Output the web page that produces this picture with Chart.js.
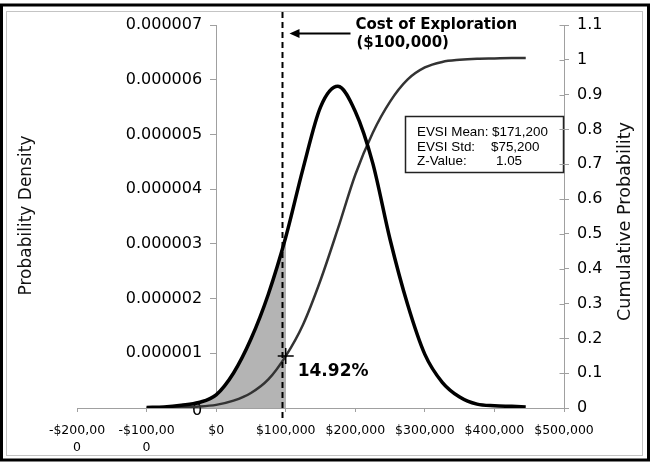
<!DOCTYPE html>
<html><head><meta charset="utf-8">
<script src="https://cdn.jsdelivr.net/npm/chart.js@4/dist/chart.umd.min.js"></script>
<style>html,body{margin:0;padding:0;background:#fff;overflow:hidden}</style>
</head><body>
<canvas id="c" width="651" height="469"></canvas>
<script>
// ---- data ----
const xValues = [-100000,-75000,-50000,-25000,0,25000,50000,75000,100000,125000,150000,175000,200000,225000,250000,275000,300000,325000,350000,375000,400000,425000,445000];
const pdfValues = [0.01e-6,0.02e-6,0.05e-6,0.10e-6,0.24e-6,0.64e-6,1.26e-6,2.08e-6,3.12e-6,4.38e-6,5.50e-6,5.88e-6,5.42e-6,4.48e-6,3.08e-6,1.90e-6,0.98e-6,0.47e-6,0.20e-6,0.07e-6,0.04e-6,0.03e-6,0.02e-6];
const cdfValues = [0.000,0.001,0.002,0.004,0.009,0.021,0.043,0.082,0.149,0.240,0.367,0.515,0.670,0.790,0.880,0.943,0.978,0.994,1.000,1.003,1.004,1.005,1.005];

const xTickValues = [-200000,-100000,0,100000,200000,300000,400000,500000];
const xTickLabels = [['-$200,00','0'],['-$100,00','0'],'$0','$100,000','$200,000','$300,000','$400,000','$500,000'];
const yLeftTickValues = [0,1e-6,2e-6,3e-6,4e-6,5e-6,6e-6,7e-6];
const yLeftTickLabels = ['0','0.000001','0.000002','0.000003','0.000004','0.000005','0.000006','0.000007'];
const yRightTickValues = [0,0.1,0.2,0.3,0.4,0.5,0.6,0.7,0.8,0.9,1,1.1];
const yRightTickLabels = ['0','0.1','0.2','0.3','0.4','0.5','0.6','0.7','0.8','0.9','1','1.1'];

const costValue = 100000;          // shaded up to the cost
const costLineDrawnAt = 94000;     // dashed marker as drawn in the picture
const cdfAtCost = 0.1492;
const pctLabel = '14.92%';
const costLabel = ['Cost of Exploration', '($100,000)'];
const statLabels = ['EVSI Mean:', 'EVSI Std:', 'Z-Value:'];
const statValues = ['$171,200', '$75,200', '1.05'];
const leftTitle = 'Probability Density';
const rightTitle = 'Cumulative Probability';

const AXIS = '#a0a0a0';
const SHADE = '#b4b4b4';

function shadeColor(ctx) {
  const chart = ctx.chart;
  const ca = chart.chartArea;
  if (!ca || !chart.scales.x) return SHADE;
  const px = chart.scales.x.getPixelForValue(costValue);
  const g = chart.ctx.createLinearGradient(ca.left, 0, ca.right, 0);
  const s = Math.min(1, Math.max(0, (px - ca.left) / (ca.right - ca.left)));
  g.addColorStop(0, SHADE);
  g.addColorStop(s, SHADE);
  g.addColorStop(s, 'rgba(255,255,255,0)');
  g.addColorStop(1, 'rgba(255,255,255,0)');
  return g;
}

const decor = {
  id: 'decor',
  beforeDraw(chart) {
    const c = chart.ctx;
    c.save(); c.fillStyle = '#fff'; c.fillRect(0, 0, chart.width, chart.height); c.restore();
  },
  beforeDatasetsDraw(chart) {
    // left axis tick labels, right-aligned left of the axis that crosses at x = 0
    const c = chart.ctx, ys = chart.scales.y, xs = chart.scales.x;
    const ax = xs.getPixelForValue(0);
    c.save();
    c.fillStyle = '#000'; c.font = '16px "DejaVu Sans"'; c.textAlign = 'right'; c.textBaseline = 'middle';
    yLeftTickValues.forEach((v, i) => {
      c.fillText(yLeftTickLabels[i], ax - 14, ys.getPixelForValue(v) + (i === 0 ? 3 : 0));
    });
    c.restore();
  },
  afterDatasetsDraw(chart) {
    const c = chart.ctx, ca = chart.chartArea, xs = chart.scales.x, y2 = chart.scales.y2;
    c.save();
    // dashed cost line
    const dx = Math.round(xs.getPixelForValue(costLineDrawnAt)) + 0.5;
    c.strokeStyle = '#000'; c.lineWidth = 2; c.setLineDash([6, 4]);
    c.beginPath(); c.moveTo(dx, ca.top - 13); c.lineTo(dx, ca.bottom + 13); c.stroke();
    c.setLineDash([]);
    // arrow
    const ay = ca.top + 8.5;
    c.lineWidth = 2;
    c.beginPath(); c.moveTo(dx + 68, ay); c.lineTo(dx + 14, ay); c.stroke();
    c.fillStyle = '#000';
    c.beginPath(); c.moveTo(dx + 7, ay); c.lineTo(dx + 17, ay - 4.5); c.lineTo(dx + 17, ay + 4.5); c.closePath(); c.fill();
    // cost text
    c.font = 'bold 15px "DejaVu Sans"'; c.textBaseline = 'alphabetic'; c.textAlign = 'left';
    c.fillText(costLabel[0], dx + 73, ca.top + 4);
    c.fillText(costLabel[1], dx + 74, ca.top + 22);
    // percentage label
    const mx = xs.getPixelForValue(costValue), my = y2.getPixelForValue(cdfAtCost);
    c.font = 'bold 17px "DejaVu Sans"';
    c.fillText(pctLabel, mx + 12, my + 20);
    // stats box
    const bw = 159, bh = 57;
    const bx = ca.right - bw, by = Math.round(y2.getPixelForValue(0.84));
    c.fillStyle = '#fff'; c.fillRect(bx, by, bw, bh);
    c.strokeStyle = '#222'; c.lineWidth = 1.5; c.strokeRect(bx + 0.5, by + 0.5, bw - 1, bh - 1);
    c.fillStyle = '#000'; c.font = '13.4px "Liberation Sans"';
    const valX = [87, 86, 91];
    for (let i = 0; i < 3; i++) {
      const ty = by + 20 + i * 14.5;
      c.fillText(statLabels[i], bx + 12, ty);
      c.fillText(statValues[i], bx + valX[i], ty);
    }
    c.restore();
  },
  afterDraw(chart) {
    const c = chart.ctx, ca = chart.chartArea, y2 = chart.scales.y2;
    c.save();
    // inward half of the crossing ticks on the right axis
    c.strokeStyle = AXIS; c.lineWidth = 1;
    const ax = Math.round(ca.right) + 0.5;
    yRightTickValues.forEach(v => {
      const y = Math.round(y2.getPixelForValue(v)) + 0.5;
      c.beginPath(); c.moveTo(ax - 5, y); c.lineTo(ax, y); c.stroke();
    });
    // axis titles
    c.fillStyle = '#111'; c.textAlign = 'center'; c.textBaseline = 'middle';
    c.font = '17px "DejaVu Sans"';
    c.save(); c.translate(27, (ca.top + ca.bottom) / 2 - 1); c.rotate(-Math.PI / 2); c.fillText(leftTitle, 0, 0); c.restore();
    c.font = '17.6px "DejaVu Sans"';
    c.save(); c.translate(625, (ca.top + ca.bottom) / 2 + 5); c.rotate(-Math.PI / 2); c.fillText(rightTitle, 0, 0); c.restore();
    // frame
    c.strokeStyle = '#c4c4c4'; c.lineWidth = 1;
    c.strokeRect(6.5, 11.5, 636, 444);
    c.strokeStyle = '#000'; c.lineWidth = 3;
    c.strokeRect(1.5, 5, 647, 455);
    c.restore();
  }
};

new Chart(document.getElementById('c'), {
  type: 'line',
  data: {
    datasets: [
      { label: 'marker', data: [{ x: costValue, y: cdfAtCost }], yAxisID: 'y2', showLine: false,
        pointStyle: 'cross', pointRadius: 8, pointBorderWidth: 1.5, borderColor: '#000', backgroundColor: '#000' },
      { label: 'PDF', data: xValues.map((x, i) => ({ x, y: pdfValues[i] })), yAxisID: 'y',
        borderColor: '#000', borderWidth: 3.5, pointRadius: 0, cubicInterpolationMode: 'monotone',
        fill: 'origin', backgroundColor: shadeColor },
      { label: 'CDF', data: xValues.map((x, i) => ({ x, y: cdfValues[i] })), yAxisID: 'y2',
        borderColor: '#333', borderWidth: 2.5, pointRadius: 0, cubicInterpolationMode: 'monotone', fill: false }
    ]
  },
  options: {
    responsive: false, animation: false, devicePixelRatio: 1,
    layout: { padding: { left: 77, top: 25, right: 0, bottom: 0 } },
    plugins: { legend: { display: false }, tooltip: { enabled: false }, filler: { drawTime: 'beforeDatasetsDraw' } },
    scales: {
      x: {
        type: 'linear', position: 'bottom', min: -200000, max: 500000,
        afterBuildTicks: s => { s.ticks = xTickValues.map(v => ({ value: v })); },
        afterFit: s => { s.height = 469 - 408; },
        ticks: { autoSkip: false, maxRotation: 0, minRotation: 0, padding: 11, color: '#000',
          font: { family: 'DejaVu Sans', size: 12.5, lineHeight: 1.3 },
          callback: (v, i) => xTickLabels[i] },
        grid: { display: true, drawOnChartArea: false, drawTicks: true, tickLength: 4, color: AXIS },
        border: { display: true, color: AXIS, width: 1 }
      },
      y: {
        type: 'linear', axis: 'y', position: { x: 0 }, min: 0, max: 7e-6,
        afterBuildTicks: s => { s.ticks = yLeftTickValues.map(v => ({ value: v })); },
        ticks: { display: false },
        grid: { display: true, drawOnChartArea: false, drawTicks: true, tickLength: 6, color: AXIS },
        border: { display: true, color: AXIS, width: 1 }
      },
      y2: {
        type: 'linear', axis: 'y', position: 'right', min: 0, max: 1.1,
        afterBuildTicks: s => { s.ticks = yRightTickValues.map(v => ({ value: v })); },
        afterFit: s => { s.width = 651 - 564; },
        ticks: { padding: 8, color: '#000', font: { family: 'DejaVu Sans', size: 16 },
          callback: (v, i) => yRightTickLabels[i] },
        grid: { display: true, drawOnChartArea: false, drawTicks: true, tickLength: 5, color: AXIS },
        border: { display: true, color: AXIS, width: 1 }
      }
    }
  },
  plugins: [decor]
});
</script>
</body></html>
